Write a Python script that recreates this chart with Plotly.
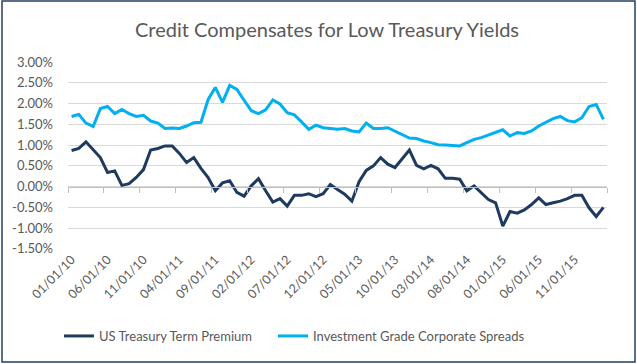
import plotly.graph_objects as go
import pandas as pd

# ---- data ----
dates = pd.date_range("2010-01-01", periods=75, freq="MS")
date_labels = [d.strftime("%m/%d/%y") for d in dates]
tick_labels = date_labels[::5]

treasury_term_premium = [
    0.87, 0.92, 1.08, 0.88, 0.70, 0.34, 0.38, 0.03, 0.07, 0.22,
    0.41, 0.88, 0.92, 0.98, 0.98, 0.80, 0.58, 0.70, 0.44, 0.22,
    -0.10, 0.09, 0.14, -0.14, -0.23, 0.02, 0.19, -0.10, -0.37, -0.29,
    -0.47, -0.21, -0.21, -0.17, -0.24, -0.17, 0.05, -0.07, -0.18, -0.35,
    0.12, 0.39, 0.50, 0.70, 0.54, 0.46, 0.66, 0.88, 0.51, 0.43,
    0.51, 0.43, 0.20, 0.20, 0.18, -0.10, 0.02, -0.14, -0.31, -0.39,
    -0.95, -0.60, -0.64, -0.56, -0.43, -0.27, -0.43, -0.39, -0.35, -0.29,
    -0.21, -0.21, -0.51, -0.72, -0.50,
]
ig_corporate_spreads = [
    1.69, 1.74, 1.53, 1.45, 1.88, 1.93, 1.76, 1.86, 1.76, 1.69,
    1.72, 1.58, 1.53, 1.40, 1.41, 1.40, 1.46, 1.54, 1.55, 2.10,
    2.39, 2.03, 2.44, 2.34, 2.08, 1.83, 1.76, 1.85, 2.09, 1.99,
    1.78, 1.73, 1.56, 1.38, 1.48, 1.42, 1.40, 1.38, 1.40, 1.34,
    1.32, 1.53, 1.40, 1.40, 1.42, 1.34, 1.26, 1.17, 1.16, 1.10,
    1.06, 1.01, 1.00, 0.99, 0.98, 1.06, 1.14, 1.18, 1.24, 1.30,
    1.37, 1.22, 1.30, 1.28, 1.34, 1.46, 1.54, 1.64, 1.69, 1.59,
    1.56, 1.66, 1.93, 1.98, 1.62,
]
series_names = ["US Treasury Term Premium", "Investment Grade Corporate Spreads"]
y_tick_values = [-1.5, -1.0, -0.5, 0.0, 0.5, 1.0, 1.5, 2.0, 2.5, 3.0]

# ---- styling / layout ----
W, H = 637, 364
L, R, T, B = 68, 30, 62, 115
PW, PH = W - L - R, H - T - B
Y_MIN, Y_MAX = -1.5, 3.0
FONT = "Lato"
TXT = "#595959"
DARK = "#1F3A5F"
LIGHT = "#00B0F0"
GRID = "#D9D9D9"
BORDER = "#243F60"

fig = go.Figure()
fig.add_trace(go.Scatter(x=date_labels, y=treasury_term_premium, name=series_names[0],
                         mode="lines", line=dict(color=DARK, width=3), legend="legend"))
fig.add_trace(go.Scatter(x=date_labels, y=ig_corporate_spreads, name=series_names[1],
                         mode="lines", line=dict(color=LIGHT, width=3), legend="legend2"))
# invisible helper trace so the zero-crossing axis (tick marks at y=0) is drawn
fig.add_trace(go.Scatter(x=list(range(len(date_labels))), y=treasury_term_premium,
                         xaxis="x2", mode="lines", line=dict(width=0), opacity=0,
                         showlegend=False, hoverinfo="skip"))

n = len(date_labels)
legend_common = dict(orientation="h", xanchor="left",
                     y=(H - B - 336) / PH, yanchor="middle",
                     font=dict(size=13, color=TXT), bgcolor="rgba(0,0,0,0)")
fig.update_layout(
    width=W, height=H,
    margin=dict(l=L, r=R, t=T, b=B, pad=0),
    paper_bgcolor="white", plot_bgcolor="white",
    font=dict(family=FONT, color=TXT, size=13),
    title=dict(text="Credit Compensates for Low Treasury Yields",
               x=327 / W, xref="container", xanchor="center",
               y=1 - 30 / H, yref="container", yanchor="middle",
               font=dict(family=FONT, size=20, color=TXT)),
    xaxis=dict(type="category", range=[-0.5, n - 0.5],
               tickmode="array", tickvals=tick_labels, ticktext=tick_labels,
               tickangle=-45, ticks="", showgrid=False, zeroline=False,
               showline=False, tickfont=dict(size=12.5, color=TXT)),
    xaxis2=dict(type="linear", overlaying="x", anchor="free",
                position=(0 - Y_MIN) / (Y_MAX - Y_MIN),
                range=[-0.5, n - 0.5], tickmode="linear", tick0=-0.5, dtick=5,
                ticks="outside", ticklen=5, tickcolor="#BFBFBF", tickwidth=1,
                showticklabels=False, showgrid=False, zeroline=False,
                showline=True, linecolor="#BFBFBF", linewidth=1),
    yaxis=dict(range=[Y_MIN - 0.002, Y_MAX + 0.002], tickmode="array",
               tickvals=y_tick_values,
               ticktext=[f"{v:.2f}%" for v in y_tick_values],
               showgrid=True, gridcolor=GRID, gridwidth=1, zeroline=False,
               showline=False, ticks="", ticklabelstandoff=14,
               tickfont=dict(size=13, color=TXT)),
    legend=dict(x=(59 - L) / PW, **legend_common),
    legend2=dict(x=(59 + 214 - L) / PW, **legend_common),
    showlegend=True,
    shapes=[dict(type="rect", xref="paper", yref="paper",
                 x0=(2 - L) / PW, x1=(635 - L) / PW,
                 y0=(H - B - 362) / PH, y1=(H - B - 1) / PH,
                 line=dict(color=BORDER, width=1.5), fillcolor="rgba(0,0,0,0)",
                 layer="below")],
)

fig.write_html("out.html", config={"displayModeBar": False},
               post_script="document.body.style.margin='0';document.body.style.overflow='hidden';")
